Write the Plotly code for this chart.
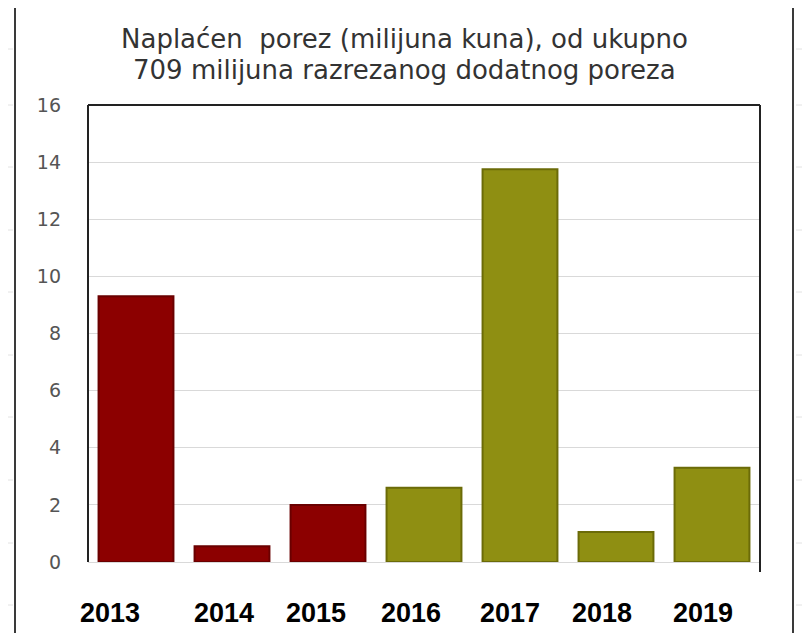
import plotly.graph_objects as go

# ---- data ----
years = ["2013", "2014", "2015", "2016", "2017", "2018", "2019"]
values = [9.3, 0.55, 2.0, 2.6, 13.75, 1.05, 3.3]
fill_colors = ["#8C0000", "#8C0000", "#8C0000", "#8F8F12", "#8F8F12", "#8F8F12", "#8F8F12"]
line_colors = ["#6A0000", "#6A0000", "#6A0000", "#6B6B08", "#6B6B08", "#6B6B08", "#6B6B08"]
y_ticks = [0, 2, 4, 6, 8, 10, 12, 14, 16]
title_lines = ["Naplaćen  porez (milijuna kuna), od ukupno", "709 milijuna razrezanog dodatnog poreza"]

# ---- layout geometry (reference pixels; page has an 8px body margin) ----
OFF = 8
W, H = 810 - OFF, 633 - OFF
L, R, T, B = 88, 760, 105, 562  # plot area in reference pixels


def px(x):
    return (x - L) / (R - L)


def py(y):
    return (B - y) / (B - T)


fig = go.Figure()
fig.add_trace(go.Bar(
    x=years, y=values,
    marker=dict(color=fill_colors, line=dict(color=line_colors, width=2)),
    hoverinfo="skip",
))

shapes = []
# outer chart frame (left, top, right)
frame_col = "#3a3a3a"
shapes.append(dict(type="line", xref="paper", yref="paper", x0=px(15), x1=px(15), y0=py(7), y1=py(640), line=dict(color=frame_col, width=2)))
shapes.append(dict(type="line", xref="paper", yref="paper", x0=px(15), x1=px(793), y0=py(7), y1=py(7), line=dict(color=frame_col, width=2)))
shapes.append(dict(type="line", xref="paper", yref="paper", x0=px(793), x1=px(793), y0=py(7), y1=py(640), line=dict(color=frame_col, width=2)))
# plot-area border
pa_col = "#222222"
shapes.append(dict(type="line", xref="paper", yref="paper", x0=0, x1=0, y0=0, y1=1, line=dict(color=pa_col, width=2)))
shapes.append(dict(type="line", xref="paper", yref="paper", x0=0, x1=1, y0=1, y1=1, line=dict(color=pa_col, width=2)))
shapes.append(dict(type="line", xref="paper", yref="paper", x0=1, x1=1, y0=py(572), y1=1, line=dict(color=pa_col, width=2)))
# faint spreadsheet cell lines outside the chart frame
for yy in [49, 105, 167, 230, 292, 355, 417, 480, 543, 605]:
    shapes.append(dict(type="line", xref="paper", yref="paper", x0=px(8), x1=px(13), y0=py(yy), y1=py(yy), line=dict(color="#E2E2E2", width=1)))
    shapes.append(dict(type="line", xref="paper", yref="paper", x0=px(796), x1=px(810), y0=py(yy), y1=py(yy), line=dict(color="#E2E2E2", width=1)))

annotations = []
for line, yc in zip(title_lines, [39, 70]):
    annotations.append(dict(
        text=line, xref="paper", yref="paper", x=px(404), y=py(yc),
        xanchor="center", yanchor="middle", showarrow=False,
        font=dict(family="DejaVu Sans, sans-serif", size=26, color="#333333"),
    ))
label_shifts = [-26, -8, -12, -13, -10, -14, -9]
for i, (yr, sh) in enumerate(zip(years, label_shifts)):
    annotations.append(dict(
        text="<b>" + yr + "</b>", xref="x", yref="paper", x=i, y=py(613),
        xanchor="center", yanchor="middle", xshift=sh, showarrow=False,
        font=dict(family="Liberation Sans, Arial, sans-serif", size=27, color="#000000"),
    ))

fig.update_layout(
    width=W, height=H,
    margin=dict(l=L - OFF, r=810 - R, t=T - OFF, b=633 - B, pad=0),
    paper_bgcolor="white", plot_bgcolor="white",
    showlegend=False,
    bargap=0.22,
    shapes=shapes,
    annotations=annotations,
    xaxis=dict(type="category", range=[-0.5, len(years) - 0.5], autorange=False,
               showticklabels=False, showgrid=False, zeroline=False,
               showline=False, ticks="", fixedrange=True),
    yaxis=dict(
        range=[0, 16], autorange=False, tickvals=y_ticks, ticktext=[str(v) for v in y_ticks],
        showgrid=True, gridcolor="#D9D9D9", gridwidth=1,
        zeroline=True, zerolinecolor="#D9D9D9", zerolinewidth=1,
        showline=False, ticks="", ticklabelstandoff=26,
        tickfont=dict(family="DejaVu Sans, sans-serif", size=19, color="#555555"),
        fixedrange=True,
    ),
)

fig.write_html("out.html")
